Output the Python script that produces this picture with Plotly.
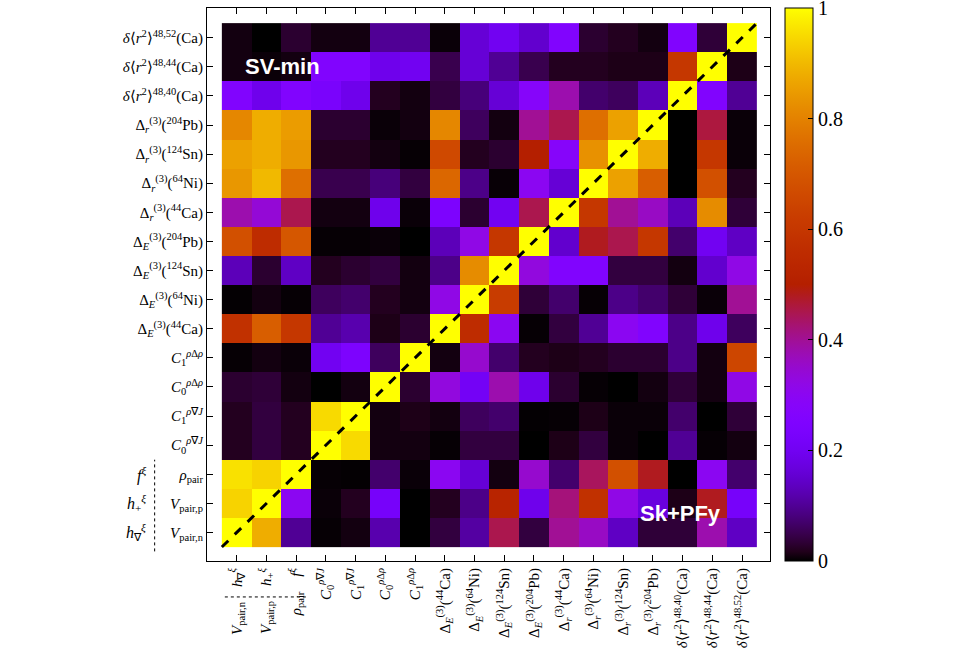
import math
import plotly.graph_objects as go

# Etichette (dal basso verso l'alto / da sinistra a destra)
etichette_y = [
    "<i>V</i><sub>pair,n</sub>", "<i>V</i><sub>pair,p</sub>", "<i>ρ</i><sub>pair</sub>",
    "<i>C</i><sub>0</sub><sup><i>ρ</i>∇<i>J</i></sup>", "<i>C</i><sub>1</sub><sup><i>ρ</i>∇<i>J</i></sup>",
    "<i>C</i><sub>0</sub><sup><i>ρ</i>Δ<i>ρ</i></sup>", "<i>C</i><sub>1</sub><sup><i>ρ</i>Δ<i>ρ</i></sup>",
    "Δ<sub><i>E</i></sub><sup>(3)</sup>(<sup>44</sup>Ca)", "Δ<sub><i>E</i></sub><sup>(3)</sup>(<sup>64</sup>Ni)",
    "Δ<sub><i>E</i></sub><sup>(3)</sup>(<sup>124</sup>Sn)", "Δ<sub><i>E</i></sub><sup>(3)</sup>(<sup>204</sup>Pb)",
    "Δ<sub><i>r</i></sub><sup>(3)</sup>(<sup>44</sup>Ca)", "Δ<sub><i>r</i></sub><sup>(3)</sup>(<sup>64</sup>Ni)",
    "Δ<sub><i>r</i></sub><sup>(3)</sup>(<sup>124</sup>Sn)", "Δ<sub><i>r</i></sub><sup>(3)</sup>(<sup>204</sup>Pb)",
    "<i>δ</i>⟨<i>r</i><sup>2</sup>⟩<sup>48,40</sup>(Ca)", "<i>δ</i>⟨<i>r</i><sup>2</sup>⟩<sup>48,44</sup>(Ca)",
    "<i>δ</i>⟨<i>r</i><sup>2</sup>⟩<sup>48,52</sup>(Ca)",
]
etichette_x = [
    "<i>V</i><sub>pair,n</sub>    <i>h</i><sub>∇</sub><sup><i>ξ</i></sup>",
    "<i>V</i><sub>pair,p</sub>    <i>h</i><sub>+</sub><sup><i>ξ</i></sup>",
    "<i>ρ</i><sub>pair</sub>    <i>f</i><sup><i>ξ</i></sup>",
] + etichette_y[3:]
parametri_sx = ["<i>h</i><sub>∇</sub><sup><i>ξ</i></sup>", "<i>h</i><sub>+</sub><sup><i>ξ</i></sup>", "<i>f</i><sup><i>ξ</i></sup>"]

# Correlazioni, righe dall'alto (δ48,52) verso il basso (Vpair,n)
corr_alto_basso = [
    [0.01, 0.0, 0.03, 0.01, 0.01, 0.1, 0.1, 0.005, 0.16, 0.2, 0.15, 0.26, 0.03, 0.02, 0.01, 0.26, 0.035, 1],
    [0.01, 0.005, 0.01, 0.26, 0.26, 0.19, 0.2, 0.05, 0.16, 0.1, 0.05, 0.02, 0.02, 0.015, 0.015, 0.6, 1, 0.015],
    [0.26, 0.19, 0.26, 0.23, 0.19, 0.02, 0.01, 0.04, 0.08, 0.16, 0.28, 0.38, 0.07, 0.06, 0.13, 1, 0.26, 0.1],
    [0.81, 0.88, 0.85, 0.03, 0.03, 0.005, 0.01, 0.81, 0.06, 0.01, 0.4, 0.45, 0.76, 0.86, 1, 0.0, 0.46, 0.005],
    [0.86, 0.88, 0.84, 0.02, 0.02, 0.01, 0.003, 0.66, 0.02, 0.03, 0.5, 0.28, 0.83, 1, 0.88, 0.0, 0.6, 0.005],
    [0.84, 0.9, 0.76, 0.05, 0.05, 0.08, 0.04, 0.74, 0.09, 0.004, 0.3, 0.16, 1, 0.86, 0.72, 0.0, 0.68, 0.02],
    [0.38, 0.34, 0.45, 0.01, 0.01, 0.19, 0.005, 0.24, 0.03, 0.2, 0.45, 1, 0.6, 0.4, 0.36, 0.13, 0.82, 0.035],
    [0.68, 0.56, 0.7, 0.003, 0.003, 0.005, 0.0, 0.13, 0.32, 0.6, 1, 0.15, 0.48, 0.45, 0.6, 0.07, 0.2, 0.14],
    [0.13, 0.03, 0.14, 0.02, 0.03, 0.04, 0.01, 0.09, 0.82, 1, 0.33, 0.26, 0.26, 0.04, 0.04, 0.01, 0.15, 0.32],
    [0.002, 0.01, 0.003, 0.06, 0.07, 0.02, 0.01, 0.32, 1, 0.62, 0.035, 0.07, 0.003, 0.09, 0.07, 0.035, 0.005, 0.4],
    [0.58, 0.72, 0.6, 0.1, 0.12, 0.015, 0.03, 1, 0.56, 0.3, 0.003, 0.04, 0.1, 0.3, 0.26, 0.09, 0.19, 0.06],
    [0.003, 0.01, 0.005, 0.2, 0.24, 0.06, 1, 0.01, 0.35, 0.07, 0.02, 0.015, 0.02, 0.03, 0.03, 0.09, 0.01, 0.65],
    [0.03, 0.035, 0.01, 0.0, 0.01, 1, 0.03, 0.33, 0.21, 0.38, 0.19, 0.03, 0.003, 0.0, 0.01, 0.035, 0.01, 0.32],
    [0.02, 0.04, 0.02, 0.95, 1, 0.01, 0.015, 0.01, 0.06, 0.07, 0.002, 0.003, 0.015, 0.005, 0.005, 0.07, 0.0, 0.035],
    [0.02, 0.04, 0.02, 1, 0.95, 0.01, 0.01, 0.003, 0.04, 0.04, 0.0, 0.015, 0.04, 0.005, 0.0, 0.1, 0.003, 0.01],
    [0.96, 0.94, 1, 0.003, 0.002, 0.07, 0.005, 0.3, 0.16, 0.01, 0.35, 0.07, 0.44, 0.68, 0.48, 0.0, 0.3, 0.07],
    [0.94, 1, 0.3, 0.005, 0.02, 0.22, 0.0, 0.02, 0.09, 0.52, 0.19, 0.42, 0.58, 0.32, 0.17, 0.015, 0.48, 0.22],
    [1, 0.88, 0.1, 0.003, 0.01, 0.12, 0.0, 0.04, 0.11, 0.45, 0.04, 0.4, 0.36, 0.14, 0.035, 0.035, 0.38, 0.14],
]
corr = corr_alto_basso[::-1]
n = len(etichette_y)

# Palette gnuplot (rgbformulae 7,5,15)
def gnuplot(v):
    r = math.sqrt(v)
    g = v ** 3
    b = max(0.0, math.sin(2 * math.pi * v))
    return f"rgb({int(r*255)},{int(g*255)},{int(b*255)})"

scala = [[i / 60, gnuplot(i / 60)] for i in range(61)]

font_serif = "Liberation Serif"

fig = go.Figure()
fig.add_trace(go.Heatmap(
    z=corr, x=list(range(n)), y=list(range(n)), zmin=0, zmax=1, colorscale=scala,
    showscale=True,
    colorbar=dict(x=1.027, xanchor="left", y=0.5, yanchor="middle", len=1.0, lenmode="fraction",
                  thickness=28, xpad=0, ypad=0, outlinecolor="black", outlinewidth=1,
                  tickvals=[0, 0.2, 0.4, 0.6, 0.8, 1], ticktext=["0", "0.2", "0.4", "0.6", "0.8", "1"],
                  ticks="inside", ticklen=5, tickcolor="black", ticklabeloverflow="allow",
                  tickfont=dict(family=font_serif, size=20, color="black")),
))
# Diagonale tratteggiata
fig.add_trace(go.Scatter(x=[-0.5, n - 0.5], y=[-0.5, n - 0.5], mode="lines",
                         line=dict(color="black", width=3, dash="dash"), showlegend=False, hoverinfo="skip"))

fig.add_annotation(x=1.55, y=16.0, text="<b>SV-min</b>", showarrow=False,
                   font=dict(family="Liberation Sans", size=22, color="white"))
fig.add_annotation(x=14.94, y=0.66, text="<b>Sk+PFy</b>", showarrow=False,
                   font=dict(family="Liberation Sans", size=22, color="white"))

# Parametri a sinistra (f, h+, h∇) con separatore punteggiato
for i, t in enumerate(parametri_sx):
    fig.add_annotation(x=-0.105, xref="paper", y=i, yref="y", text=t, showarrow=False, xanchor="right",
                       font=dict(family=font_serif, size=16, color="black"))
fig.add_shape(type="line", xref="paper", yref="y", x0=-0.093, x1=-0.093, y0=-0.65, y1=2.5,
              line=dict(color="black", width=1, dash="dot"))
fig.add_shape(type="line", xref="x", yref="paper", x0=-0.4, x1=2.4, y0=-0.065, y1=-0.065,
              line=dict(color="black", width=1, dash="dot"))

asse = dict(showline=True, linecolor="black", linewidth=1, mirror="ticks", ticks="inside",
            ticklen=6, tickcolor="black", showgrid=False, zeroline=False, automargin=False)
fig.update_layout(
    width=960, height=654,
    margin=dict(l=207, r=190, t=8, b=93),
    paper_bgcolor="white", plot_bgcolor="white",
    font=dict(family=font_serif, color="black"),
    xaxis=dict(**asse, range=[-1.0, 17.94], tickvals=list(range(n)), ticktext=etichette_x,
               tickangle=-90, tickfont=dict(size=15)),
    yaxis=dict(**asse, range=[-0.98, 18.02], tickvals=list(range(n)), ticktext=etichette_y,
               tickfont=dict(size=15)),
    showlegend=False,
)

# margine della pagina a zero, così la figura occupa tutta la finestra
fig.write_html("out.html", config={"displayModeBar": False},
               post_script="document.body.style.margin='0';")
